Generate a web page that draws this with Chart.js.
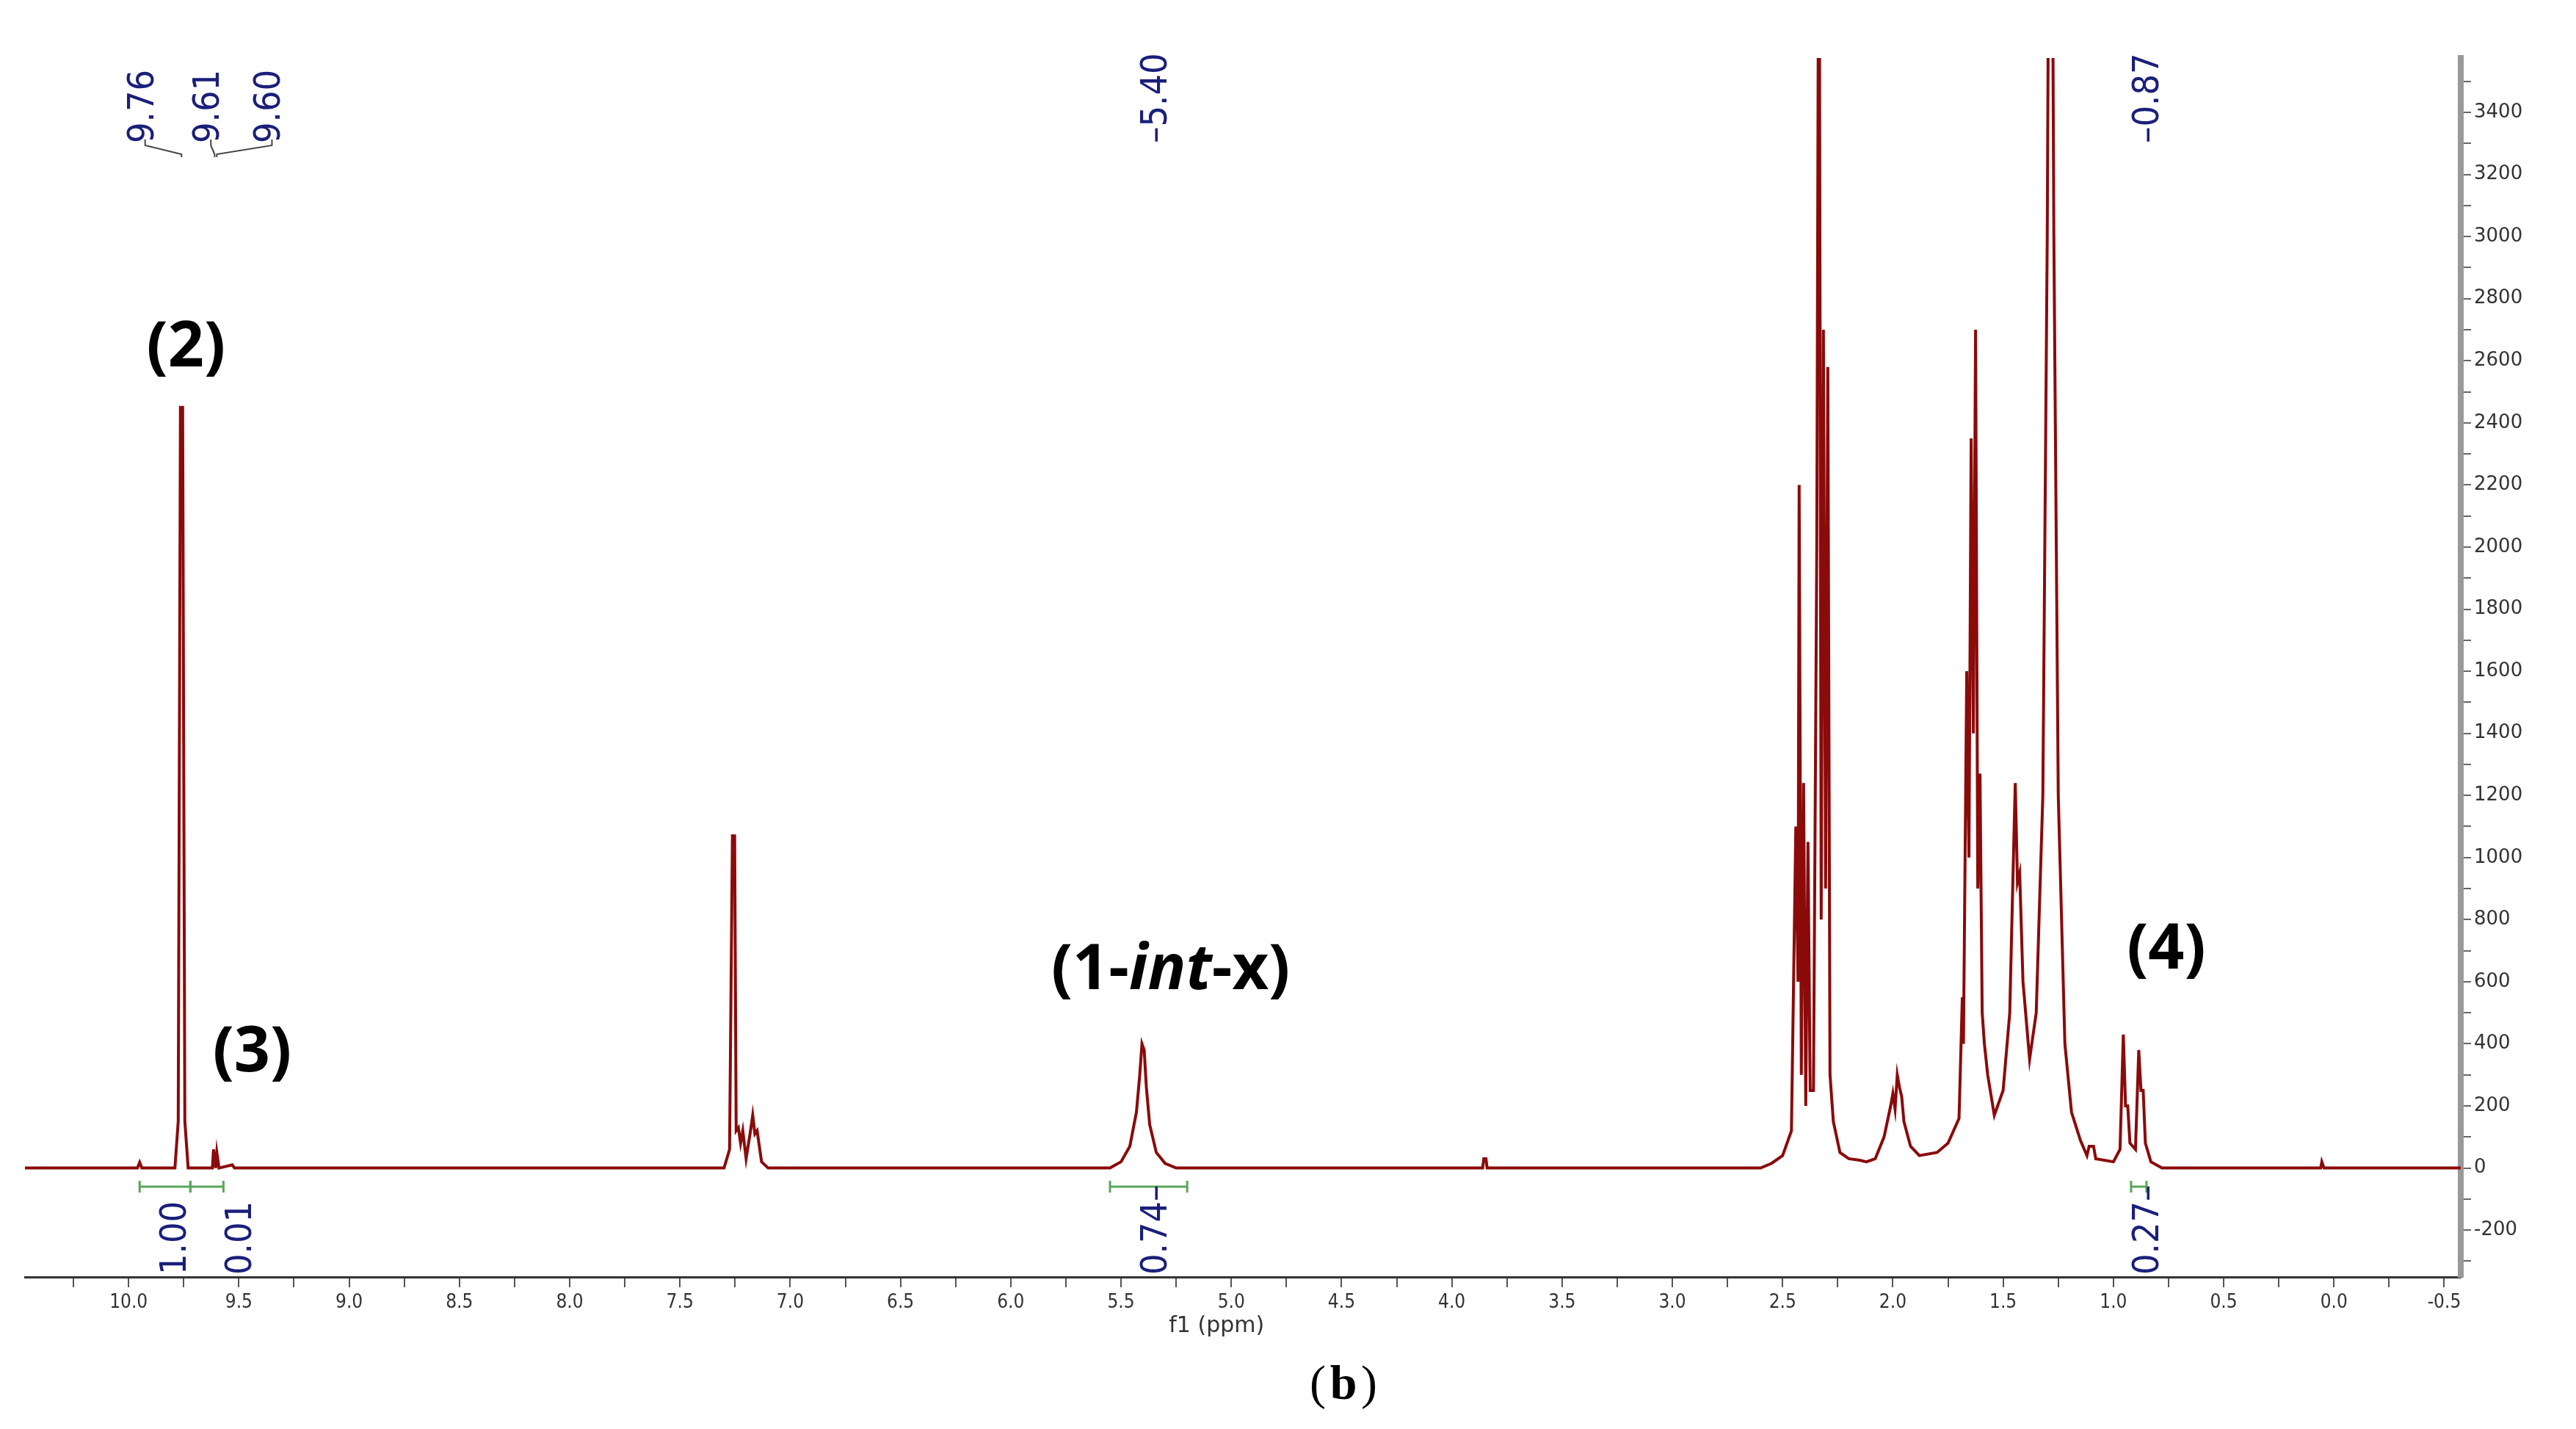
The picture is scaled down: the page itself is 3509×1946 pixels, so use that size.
<!DOCTYPE html>
<html>
<head>
<meta charset="utf-8">
<script src="https://cdn.jsdelivr.net/npm/chart.js@4.4.0/dist/chart.umd.min.js"></script>
<style>
html,body{margin:0;padding:0;background:#fff;}
#wrap{width:3509px;height:1946px;}
</style>
</head>
<body>
<div id="wrap"><canvas id="nmr" width="3509" height="1946"></canvas></div>
<script>
// spectrum: chemical shift (ppm) and intensity
var ppm = [10.47,9.96,9.95,9.94,9.79,9.775,9.765,9.755,9.745,9.73,9.62,9.615,9.605,9.60,9.59,9.53,9.52,
 7.30,7.275,7.262,7.252,7.245,7.235,7.225,7.215,7.20,7.18,7.17,7.16,7.15,7.13,7.10,
 5.55,5.50,5.46,5.43,5.415,5.405,5.395,5.385,5.37,5.34,5.30,5.25,
 3.86,3.855,3.845,3.84,
 2.60,2.55,2.50,2.46,2.44,2.43,2.425,2.415,2.405,2.395,2.385,2.375,2.36,2.345,2.335,2.325,2.315,2.305,2.295,2.285,2.27,2.24,2.20,2.15,2.12,
 2.08,2.04,2.01,2.00,1.99,1.98,1.97,1.96,1.95,1.92,1.88,1.80,1.75,1.70,1.685,1.68,1.665,1.655,1.645,1.635,1.625,1.615,1.605,1.595,1.585,1.57,1.54,
 1.50,1.47,1.455,1.445,1.435,1.425,1.41,1.38,1.35,1.32,1.30,1.29,1.28,1.27,1.25,1.22,1.19,1.15,1.12,1.11,1.09,1.08,1.00,
 0.97,0.955,0.945,0.935,0.925,0.90,0.885,0.875,0.865,0.855,0.83,0.78,0.06,0.055,0.045,-0.575];
var intensity = [0,0,18,0,0,150,2450,2450,150,0,0,60,0,50,0,10,0,
 0,60,1070,1070,120,130,80,120,30,120,170,110,120,20,0,
 0,20,70,180,300,400,380,260,140,50,15,0,
 0,30,30,0,
 0,15,40,120,1100,600,2200,300,1240,200,1050,250,250,2000,4500,800,2700,900,2580,300,150,50,30,25,20,
 30,100,200,240,190,300,260,230,150,70,40,50,80,160,550,400,1600,1000,2350,1400,2700,900,1270,500,400,300,170,
 250,500,950,1240,920,950,600,350,500,1200,3000,4500,4500,3000,1200,400,180,90,40,70,70,30,20,
 60,430,200,200,80,60,380,250,250,80,20,0,0,20,0,0];

// peak picking labels (top): text, label ppm, peak ppm
var peakText = ["9.76","9.61","9.60","5.40","0.87"];
var peakLabelPpm = [9.985,9.687,9.41,5.39,0.894];
var peakPpm = [9.76,9.61,9.60,5.40,0.87];

// integrals (bottom): value text, text ppm, range from, range to
var integText = ["1.00","0.01","0.74","0.27"];
var integTextPpm = [9.836,9.54,5.39,0.894];
var integFrom = [9.95,9.72,5.55,0.92];
var integTo = [9.72,9.57,5.20,0.85];

// compound labels: text, ppm, intensity position
var tagText = ["(2)","(3)","(1-int-x)","(4)"];
var tagPpm = [9.74,9.44,5.275,0.76];
var tagY = [2640,370,634,700];

var points = [];
for (var i = 0; i < ppm.length; i++) points.push({x: ppm[i], y: intensity[i]});

var overlay = {
  id: 'overlay',
  afterDraw: function(chart){
    var ctx = chart.ctx, xs = chart.scales.x, ys = chart.scales.y;
    ctx.save();
    // peak labels
    ctx.fillStyle = '#1a1f7a'; ctx.strokeStyle = '#444'; ctx.lineWidth = 2;
    ctx.font = '50px "Liberation Sans Narrow", "DejaVu Sans Condensed", sans-serif';
    for (var i = 0; i < peakText.length; i++){
      var lx = xs.getPixelForValue(peakLabelPpm[i]), px = xs.getPixelForValue(peakPpm[i]);
      ctx.save(); ctx.translate(lx + 16, 195); ctx.rotate(-Math.PI/2);
      ctx.textAlign = 'left'; ctx.textBaseline = 'middle';
      ctx.fillText((peakText.length - i <= 2 ? '\u2013' : '') + peakText[i], 0, 0);
      ctx.restore();
      if (i < 3){
        ctx.beginPath(); ctx.moveTo(lx + 18, 190); ctx.lineTo(lx + 18, 198);
        ctx.lineTo(px, 210); ctx.lineTo(px, 214); ctx.stroke();
      }
    }
    // integrals
    for (var j = 0; j < integText.length; j++){
      var x1 = xs.getPixelForValue(integFrom[j]), x2 = xs.getPixelForValue(integTo[j]);
      var iy = 1616;
      ctx.strokeStyle = '#5aa55a'; ctx.lineWidth = 3;
      ctx.beginPath(); ctx.moveTo(x1, iy); ctx.lineTo(x2, iy);
      ctx.moveTo(x1, iy-8); ctx.lineTo(x1, iy+8); ctx.moveTo(x2, iy-8); ctx.lineTo(x2, iy+8); ctx.stroke();
      var tx = xs.getPixelForValue(integTextPpm[j]);
      ctx.fillStyle = '#1a1f7a';
      ctx.save(); ctx.translate(tx + 16, 1736); ctx.rotate(-Math.PI/2);
      ctx.textAlign = 'left'; ctx.textBaseline = 'middle';
      ctx.fillText(integText[j] + (j == 2 || j == 3 ? '\u2013' : ''), 0, 0);
      ctx.restore();
    }
    // compound tags
    ctx.fillStyle = '#000'; ctx.textAlign = 'center'; ctx.textBaseline = 'middle';
    for (var k = 0; k < tagText.length; k++){
      var gx = xs.getPixelForValue(tagPpm[k]), gy = ys.getPixelForValue(tagY[k]);
      if (tagText[k] == '(1-int-x)'){
        var p1 = '(1-', p2 = 'int', p3 = '-x)';
        ctx.font = 'bold 86px "Open Sans", sans-serif';
        var w1 = ctx.measureText(p1).width, w3 = ctx.measureText(p3).width;
        ctx.font = 'italic bold 86px "Open Sans", sans-serif';
        var w2 = ctx.measureText(p2).width;
        var sx = gx - (w1 + w2 + w3) / 2;
        ctx.textAlign = 'left';
        ctx.font = 'bold 86px "Open Sans", sans-serif'; ctx.fillText(p1, sx, gy);
        ctx.font = 'italic bold 86px "Open Sans", sans-serif'; ctx.fillText(p2, sx + w1, gy);
        ctx.font = 'bold 86px "Open Sans", sans-serif'; ctx.fillText(p3, sx + w1 + w2, gy);
        ctx.textAlign = 'center';
      } else {
        ctx.font = 'bold 86px "Open Sans", sans-serif';
        ctx.fillText(tagText[k], gx, gy);
      }
    }
    // axis title and caption
    ctx.fillStyle = '#333'; ctx.font = '30px "DejaVu Sans", sans-serif';
    ctx.fillText('f1 (ppm)', xs.getPixelForValue(5.0) - 20, 1806);
    ctx.fillStyle = '#000'; ctx.font = '66px "Liberation Serif", serif';
    ctx.fillText('(', 1795, 1888); ctx.fillText(')', 1865, 1888);
    ctx.font = 'bold 66px "Liberation Serif", serif'; ctx.fillText('b', 1830, 1888);
    ctx.restore();
  }
};

new Chart(document.getElementById('nmr').getContext('2d'), {
  type: 'line',
  data: {
    datasets: [{
      data: points,
      borderColor: '#8b0a0a',
      borderWidth: 4,
      pointRadius: 0,
      tension: 0,
      fill: false
    }]
  },
  options: {
    responsive: false,
    animation: false,
    events: [],
    layout: {padding: {left: 34, top: 79, right: 0, bottom: 0}},
    plugins: {legend: {display: false}, tooltip: {enabled: false}},
    scales: {
      x: {
        type: 'linear', reverse: true, min: -0.575, max: 10.47,
        afterFit: function(s){ s.height = 207; },
        afterBuildTicks: function(s){
          var t = []; for (var v = -0.5; v <= 10.25; v += 0.25) t.push({value: Math.round(v*100)/100}); s.ticks = t;
        },
        ticks: {
          autoSkip: false, maxRotation: 0, color: '#333', padding: 6,
          font: {size: 26, family: '"DejaVu Sans Condensed", "DejaVu Sans", sans-serif'},
          callback: function(v){ return Math.abs(v*2 - Math.round(v*2)) < 1e-6 ? v.toFixed(1) : ''; }
        },
        grid: {display: true, drawOnChartArea: false, tickLength: 14, color: '#555', lineWidth: 2},
        border: {color: '#333', width: 3}
      },
      y: {
        position: 'right', min: -351, max: 3575,
        afterFit: function(s){ s.width = 157; },
        afterBuildTicks: function(s){
          var t = []; for (var v = -300; v <= 3500; v += 100) t.push({value: v}); s.ticks = t;
        },
        ticks: {
          autoSkip: false, color: '#333', padding: 4,
          font: {size: 26, family: '"DejaVu Sans", sans-serif'},
          callback: function(v){ return v % 200 == 0 ? (v < 0 ? '-' + (-v) : '' + v) : ''; }
        },
        grid: {display: true, drawOnChartArea: false, tickLength: 14, color: '#666', lineWidth: 2},
        border: {color: '#999', width: 8}
      }
    }
  },
  plugins: [overlay]
});
</script>
</body>
</html>
